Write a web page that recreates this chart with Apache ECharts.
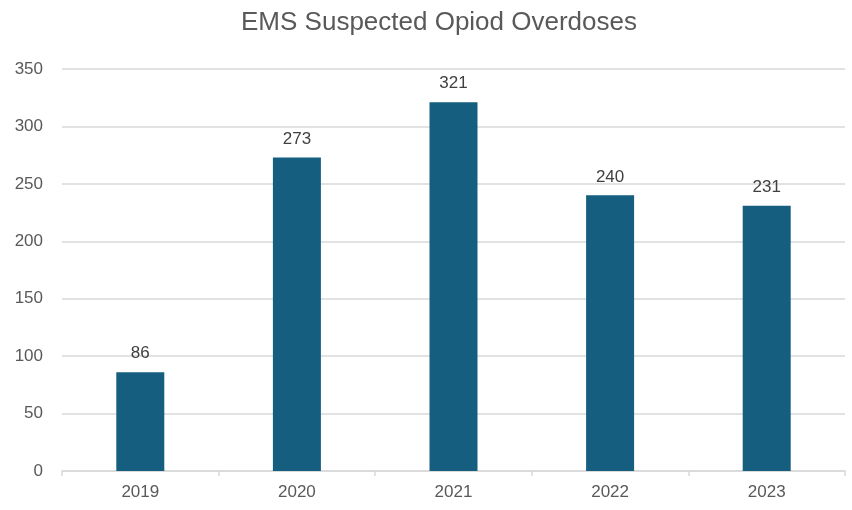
<!DOCTYPE html>
<html>
<head>
<meta charset="utf-8">
<script src="https://cdn.jsdelivr.net/npm/echarts@6/dist/echarts.min.js"></script>
<style>
  html, body { margin: 0; padding: 0; background: #fff; }
  #chart { width: 852px; height: 510px; }
</style>
</head>
<body>
<div id="chart"></div>
<script>
var years = ['2019', '2020', '2021', '2022', '2023'];
var overdoses = [86, 273, 321, 240, 231];
var yTicks = { min: 0, max: 350, step: 50 };

var chart = echarts.init(document.getElementById('chart'));

var option = {
  animation: false,
  textStyle: { fontFamily: 'Liberation Sans, Arial, sans-serif' },
  title: {
    text: 'EMS Suspected Opiod Overdoses',
    left: 434,
    textAlign: 'center',
    top: 5,
    textStyle: { color: '#595959', fontSize: 26, fontWeight: 'normal' }
  },
  grid: { left: 62, right: 7, top: 69, bottom: 39 },
  xAxis: {
    type: 'category',
    data: years,
    axisLine: { lineStyle: { color: '#d9d9d9', width: 1.5 } },
    axisTick: { show: true, length: 5, lineStyle: { color: '#d9d9d9', width: 1.5 } },
    axisLabel: { color: '#595959', fontSize: 17, margin: 13 }
  },
  yAxis: {
    type: 'value',
    min: yTicks.min,
    max: yTicks.max,
    interval: yTicks.step,
    axisLine: { show: false },
    axisTick: { show: false },
    splitLine: { lineStyle: { color: '#d9d9d9', width: 1.5 } },
    axisLabel: { color: '#595959', fontSize: 17, margin: 19 }
  },
  series: [{
    type: 'bar',
    data: overdoses,
    barWidth: 48,
    itemStyle: { color: '#155e7f' },
    label: {
      show: true,
      position: 'top',
      distance: 10,
      color: '#404040',
      fontSize: 17
    }
  }]
};

chart.setOption(option);
</script>
</body>
</html>
